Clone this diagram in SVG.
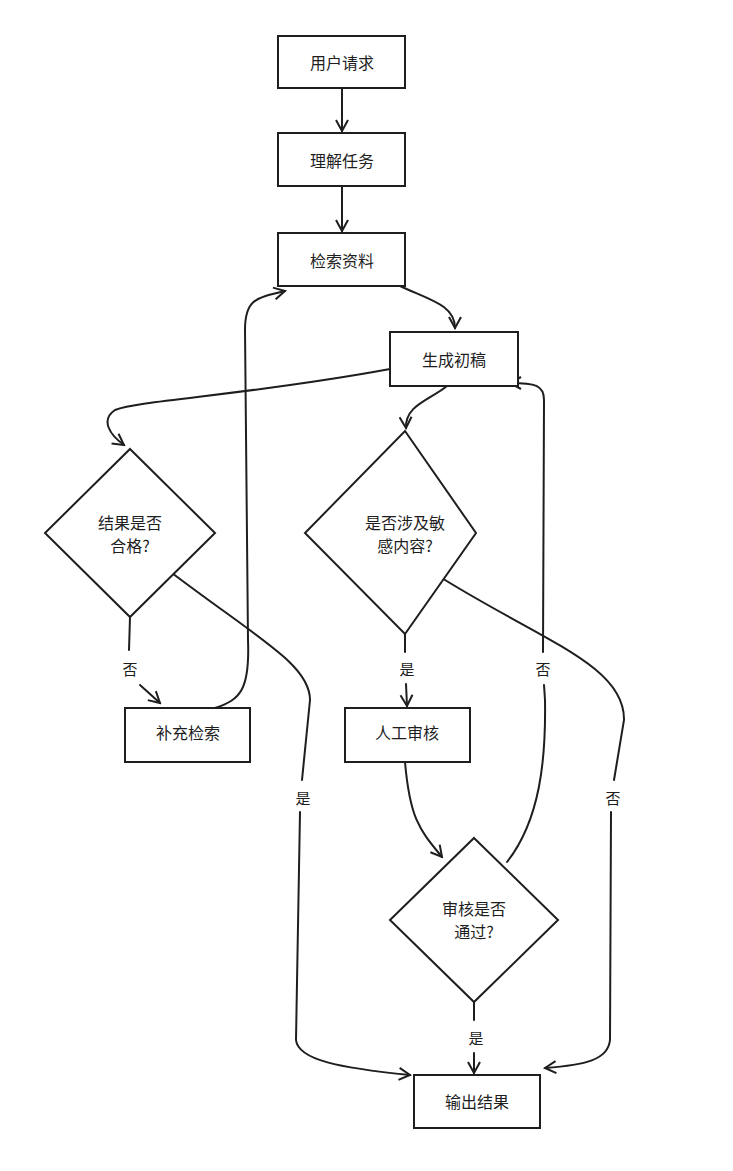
<svg xmlns="http://www.w3.org/2000/svg" width="733" height="1171" viewBox="0 0 733 1171">
<style>
.n{fill:#fff;stroke:#1e1e1e;stroke-width:2}
.t{font-family:"Noto Sans CJK SC","Noto Sans",sans-serif;font-size:16px;fill:#1e1e1e;text-anchor:middle;dominant-baseline:central}
.c{fill:none;stroke:#1e1e1e;stroke-width:2;stroke-linecap:round}
.l{font-family:"Noto Sans CJK SC","Noto Sans",sans-serif;font-size:15px;fill:#1e1e1e;text-anchor:middle;dominant-baseline:central}
</style>
<defs>
<marker id="a" markerWidth="14" markerHeight="14" refX="12" refY="7" orient="auto" markerUnits="userSpaceOnUse">
<path d="M1,1 L12,7 L1,13" fill="none" stroke="#1e1e1e" stroke-width="2"/>
</marker>
</defs>
<rect width="733" height="1171" fill="#fff"/>
<g id="connectors">
<path class="c" d="M342,88 L342,131" marker-end="url(#a)"/>
<path class="c" d="M342,186 L342,231" marker-end="url(#a)"/>
<path class="c" d="M400,286 C430,300 455,305 455,328" marker-end="url(#a)"/>
<path class="c" d="M390,369 C250,395 140,400 115,410 C100,420 110,435 124,445" marker-end="url(#a)"/>
<path class="c" d="M447,386 C430,400 405,405 406,428" marker-end="url(#a)"/>
<path class="c" d="M130,617 L129,650"/>
<path class="c" d="M140,685 L160,703" marker-end="url(#a)"/>
<path class="c" d="M215,708 C240,700 250,690 248,640 L245,330 C245,300 255,298 285,291" marker-end="url(#a)"/>
<path class="c" d="M168,570 C260,640 310,665 310,700 L302,780"/>
<path class="c" d="M300,812 L296,1040 C298,1060 340,1068 410,1075" marker-end="url(#a)"/>
<path class="c" d="M405,634 L405,652"/>
<path class="c" d="M406,684 L407,706" marker-end="url(#a)"/>
<path class="c" d="M437,575 C540,640 625,665 624,720 L614,780"/>
<path class="c" d="M611,812 L610,1040 C608,1060 585,1065 545,1068" marker-end="url(#a)"/>
<path class="c" d="M405,762 C410,820 420,830 442,857" marker-end="url(#a)"/>
<path class="c" d="M507,862 C540,820 546,760 545,700 L544,685"/>
<path class="c" d="M543,652 L544,400 C544,385 535,383 510,383" marker-end="url(#a)"/>
<path class="c" d="M474,1002 L474,1020"/>
<path class="c" d="M474,1053 L474,1073" marker-end="url(#a)"/>
<text class="l" x="130" y="668">否</text>
<text class="l" x="303" y="797">是</text>
<text class="l" x="407" y="668">是</text>
<text class="l" x="613" y="797">否</text>
<text class="l" x="543" y="668">否</text>
<text class="l" x="476" y="1037">是</text>
</g>
<g id="n1"><rect class="n" x="278" y="36" width="127" height="52"/><text class="t" x="342" y="62">用户请求</text></g>
<g id="n2"><rect class="n" x="278" y="133" width="127" height="53"/><text class="t" x="342" y="160">理解任务</text></g>
<g id="n3"><rect class="n" x="278" y="233" width="127" height="53"/><text class="t" x="342" y="260">检索资料</text></g>
<g id="n4"><rect class="n" x="390" y="332" width="128" height="54"/><text class="t" x="454" y="359">生成初稿</text></g>
<g id="d1"><polygon class="n" points="130,449 215,533 130,617 45,533"/><text class="t" x="130" y="522">结果是否</text><text class="t" x="130" y="545">合格?</text></g>
<g id="d2"><polygon class="n" points="405,431 476,533 405,634 305,533"/><text class="t" x="405" y="522">是否涉及敏</text><text class="t" x="405" y="545">感内容?</text></g>
<g id="n5"><rect class="n" x="125" y="708" width="125" height="54"/><text class="t" x="188" y="732">补充检索</text></g>
<g id="n6"><rect class="n" x="345" y="708" width="125" height="54"/><text class="t" x="407" y="732">人工审核</text></g>
<g id="d3"><polygon class="n" points="474,838 558,920 474,1002 390,920"/><text class="t" x="474" y="908">审核是否</text><text class="t" x="474" y="931">通过?</text></g>
<g id="n7"><rect class="n" x="414" y="1075" width="126" height="53"/><text class="t" x="477" y="1101">输出结果</text></g>
</svg>
